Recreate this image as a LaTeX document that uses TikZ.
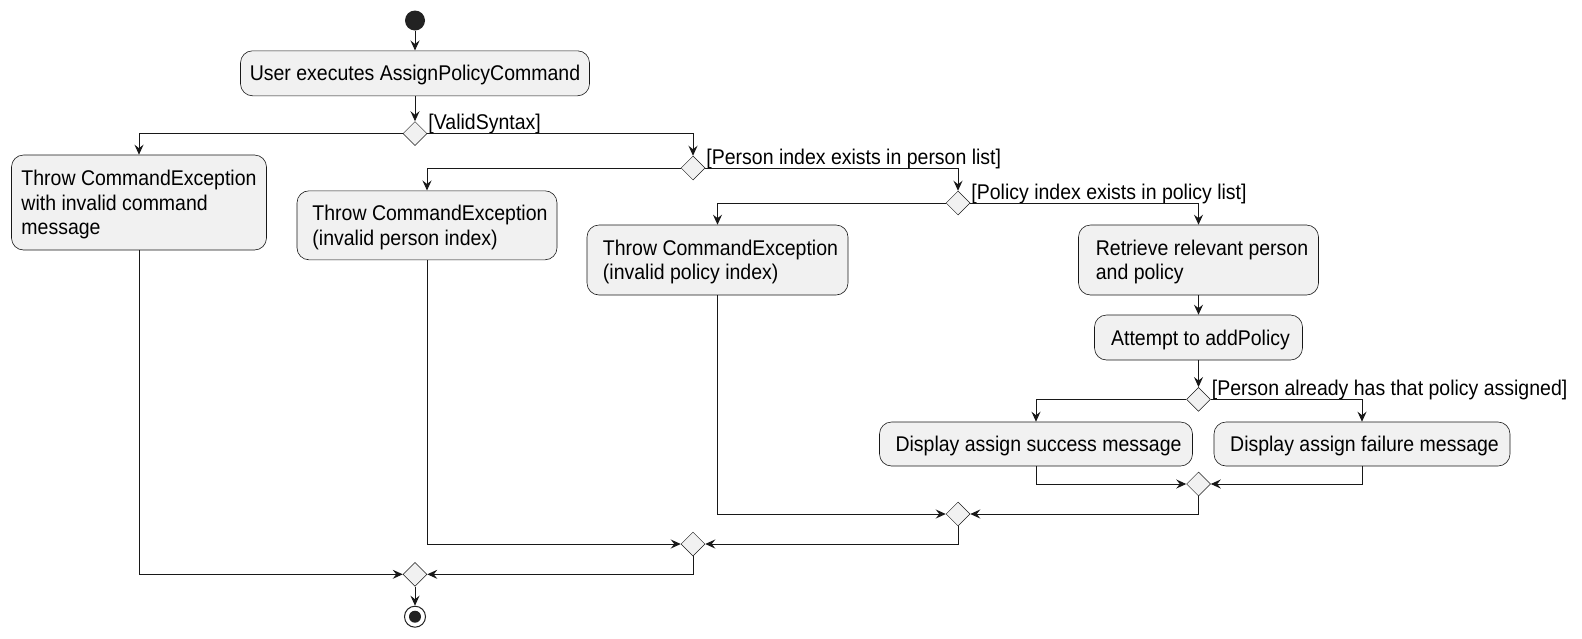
\documentclass[tikz,border=0pt]{standalone}
\usepackage{fontspec}
\setmainfont{Liberation Sans}
\newfontfamily\pf[FakeStretch=0.915]{Liberation Sans}
\usetikzlibrary{arrows.meta,shapes.geometric}
\definecolor{ln}{HTML}{181818}
\definecolor{bx}{HTML}{F1F1F1}
\definecolor{dk}{HTML}{222222}
\newcommand\tp{\rule{0pt}{20.75pt}}
\newcommand\bt{\rule[-5.5pt]{0pt}{5.5pt}}
\newcommand\pd[1]{\hspace*{#1pt}}
\tikzset{
  act/.style={draw=ln, line width=0.6pt, fill=bx, rounded corners=12pt, align=left,
    inner sep=0pt, font=\pf\fontsize{21.3}{24.5}\selectfont},
  dia/.style={draw=ln, line width=0.5pt, fill=bx, diamond, minimum width=24pt, minimum height=24pt, inner sep=0pt},
  arr/.style={draw=ln, line width=1pt, -{Stealth[length=10pt,width=9pt,inset=3.5pt]}},
  lbl/.style={anchor=base west, inner sep=0pt, font=\pf\fontsize{21.3}{24}\selectfont}
}
\begin{document}
\begin{tikzpicture}[x=1pt,y=-1pt]
\useasboundingbox (0,0) rectangle (1582,638);
% start
\node[circle, fill=dk, minimum size=20pt, inner sep=0pt] (start) at (415,20.5) {};
% activities
\node[act, minimum width=349pt, minimum height=45pt] (B0) at (415,73.3) {\tp User executes AssignPolicyCommand\bt};
\node[dia] (D1) at (415,133.5) {};
\node[act, minimum width=255pt, minimum height=95pt] (B1) at (139,202.5) {\tp Throw CommandException\\with invalid command\\message\bt};
\node[dia] (D2) at (693,168) {};
\node[act, minimum width=260pt, minimum height=69pt] (B2) at (427,225.3) {\tp\pd{6}Throw CommandException\\\pd{6}(invalid person index)\bt};
\node[dia] (D3) at (958,203) {};
\node[act, minimum width=261pt, minimum height=70pt] (B3) at (717.5,260) {\tp\pd{6}Throw CommandException\\\pd{6}(invalid policy index)\bt};
\node[act, minimum width=240pt, minimum height=70pt] (B4) at (1198.5,260) {\tp\pd{7}Retrieve relevant person\\\pd{7}and policy\bt};
\node[act, minimum width=208pt, minimum height=45pt] (B5) at (1198.5,337.5) {\tp\pd{4}Attempt to addPolicy\bt};
\node[dia] (D4) at (1198.5,399.3) {};
\node[act, minimum width=313pt, minimum height=44pt] (B6) at (1036,444) {\tp\pd{5}Display assign success message\bt};
\node[act, minimum width=296pt, minimum height=44pt] (B7) at (1362,444) {\tp\pd{5}Display assign failure message\bt};
\node[dia] (M1) at (1198.5,484) {};
\node[dia] (M2) at (958,514) {};
\node[dia] (M3) at (693,544) {};
\node[dia] (M4) at (415,574.3) {};
% end
\node[circle, draw=dk, line width=1pt, fill=white, minimum size=21pt, inner sep=0pt] (end) at (415,616.7) {};
\node[circle, fill=dk, minimum size=12pt, inner sep=0pt] (endin) at (end.center) {};
% labels
\node[lbl] (L1) at ([xshift=1pt,yshift=3.8pt]D1.east) {[ValidSyntax]};
\node[lbl] (L2) at ([xshift=1pt,yshift=3.8pt]D2.east) {[Person index exists in person list]};
\node[lbl] (L3) at ([xshift=1pt,yshift=3.8pt]D3.east) {[Policy index exists in policy list]};
\node[lbl] (L4) at ([xshift=1pt,yshift=3.8pt]D4.east) {[Person already has that policy assigned]};
% connectors
\draw[arr] (start) -- (B0);
\draw[arr] (B0) -- (D1);
\draw[arr] (D1.west) -| (B1.north);
\draw[arr] (D1.east) -| (D2.north);
\draw[arr] (D2.west) -| (B2.north);
\draw[arr] (D2.east) -| (D3.north);
\draw[arr] (D3.west) -| (B3.north);
\draw[arr] (D3.east) -| (B4.north);
\draw[arr] (B4) -- (B5);
\draw[arr] (B5) -- (D4);
\draw[arr] (D4.west) -| (B6.north);
\draw[arr] (D4.east) -| (B7.north);
\draw[arr] (B6.south) |- (M1.west);
\draw[arr] (B7.south) |- (M1.east);
\draw[arr] (M1.south) |- (M2.east);
\draw[arr] (B3.south) |- (M2.west);
\draw[arr] (M2.south) |- (M3.east);
\draw[arr] (B2.south) |- (M3.west);
\draw[arr] (M3.south) |- (M4.east);
\draw[arr] (B1.south) |- (M4.west);
\draw[arr] (M4) -- (end);
\end{tikzpicture}
\end{document}
